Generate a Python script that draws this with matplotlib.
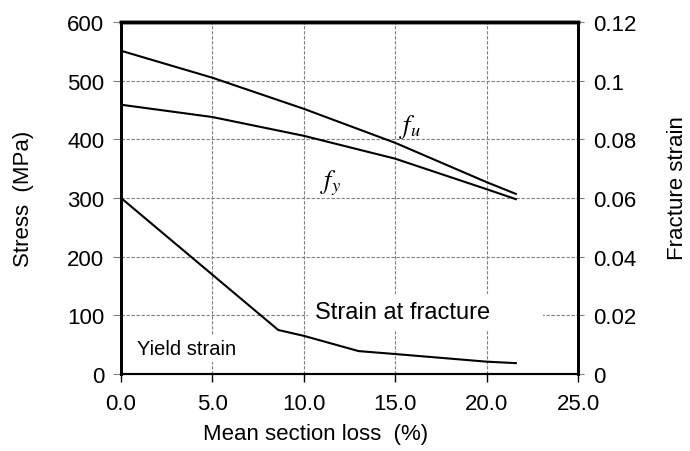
import matplotlib.pyplot as plt

plt.rcParams['font.family'] = ['Liberation Sans', 'DejaVu Sans']
plt.rcParams['mathtext.fontset'] = 'stix'

# mean section loss (%) and stresses (MPa)
loss = [0, 5, 10, 15, 20, 21.6]
fu = [551, 505, 452, 394, 327, 307]
fy = [459, 438, 406, 367, 315, 298]

# fracture strain vs section loss
strain_loss = [0, 8.6, 10, 13, 15, 20, 21.6]
strain = [0.060, 0.015, 0.013, 0.0078, 0.0068, 0.0042, 0.0037]

x_ticks = [0, 5, 10, 15, 20, 25]
x_labels = ["0.0", "5.0", "10.0", "15.0", "20.0", "25.0"]
stress_ticks = [0, 100, 200, 300, 400, 500, 600]
strain_ticks = [0, 0.02, 0.04, 0.06, 0.08, 0.1, 0.12]
strain_labels = ["0", "0.02", "0.04", "0.06", "0.08", "0.1", "0.12"]

fs = 16

fig = plt.figure(figsize=(6.9, 4.52), dpi=100)
ax = fig.add_axes([0.1754, 0.1704, 0.6623, 0.7787])
ax2 = ax.twinx()

grid_style = dict(color="#808080", linestyle=(0, (3, 1.5)), linewidth=0.8)
ax.set_axisbelow(True)
ax.grid(True, **grid_style)

ax.plot(loss, fu, color="black", lw=1.5, zorder=3)
ax.plot(loss, fy, color="black", lw=1.5, zorder=3)
ax2.plot(strain_loss, strain, color="black", lw=1.5, zorder=3)

ax.set_xlim(0, 25)
ax.set_ylim(0, 600)
ax2.set_ylim(0, 0.12)

ax.set_xticks(x_ticks)
ax.set_xticklabels(x_labels)
ax.set_yticks(stress_ticks)
ax2.set_yticks(strain_ticks)
ax2.set_yticklabels(strain_labels)

ax.tick_params(axis="x", direction="out", length=6, width=1, color="black",
               labelsize=fs, pad=8)
ax.tick_params(axis="y", direction="out", length=6, width=0.8, color="#808080",
               labelsize=fs, pad=6)
ax2.tick_params(axis="y", direction="out", length=4, width=0.8, color="#808080",
                labelsize=fs, pad=7)

for a in (ax, ax2):
    a.spines["top"].set_linewidth(2.5)
    a.spines["left"].set_linewidth(2)
    a.spines["right"].set_linewidth(2)
    a.spines["bottom"].set_linewidth(1.5)
    for s in a.spines.values():
        s.set_color("black")

ax.set_xlabel("Mean section loss  (%)", fontsize=fs)
ax.xaxis.set_label_coords(0.425, -0.14)
ax.set_ylabel("Stress  (MPa)", fontsize=fs)
ax.yaxis.set_label_coords(-0.19, 0.5)
ax2.set_ylabel("Fracture strain", fontsize=fs)
ax2.yaxis.set_label_coords(1.195, 0.53)

ax.text(15.2, 423, r"$f_u$", fontsize=19, ha="left", va="center", zorder=1.5)
ax.text(10.9, 327, r"$f_y$", fontsize=19, ha="left", va="center", zorder=1.5)
ax.text(10.6, 106, "Strain at fracture       ", fontsize=17, ha="left",
        va="center", bbox=dict(facecolor="white", edgecolor="none", pad=5),
        zorder=1.5)
ax.text(0.9, 43, "Yield strain", fontsize=14.5, ha="left", va="center",
        bbox=dict(facecolor="white", edgecolor="none", pad=3), zorder=1.5)

fig.savefig("out.png", dpi=100)
